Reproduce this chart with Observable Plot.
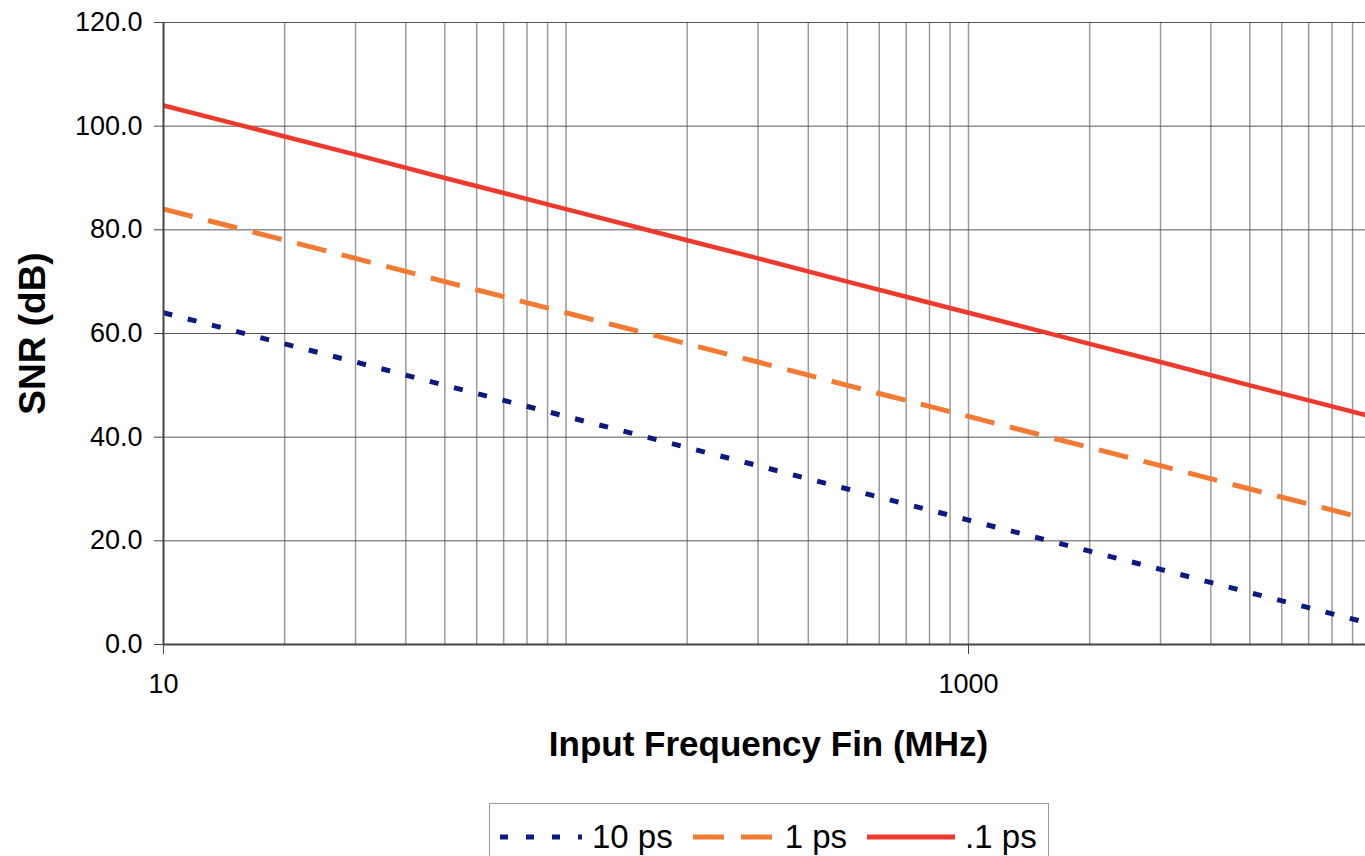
<!DOCTYPE html>
<html>
<head>
<meta charset="utf-8">
<script src="https://cdn.jsdelivr.net/npm/d3@7"></script>
<script src="https://cdn.jsdelivr.net/npm/@observablehq/plot@0.6"></script>
<style>
  html, body { margin: 0; padding: 0; background: #fff; overflow: hidden; }
  #wrap { position: relative; width: 1365px; height: 856px; overflow: hidden; font-family: "Liberation Sans", Arial, sans-serif; }
  #legend { position: absolute; left: 489px; top: 803px; width: 560px; height: 80px; border: 1.5px solid #999; box-sizing: border-box; display: flex; flex-wrap: nowrap; align-items: flex-start; padding-left: 10px; padding-top: 14px; font-size: 33px; color: #000; white-space: nowrap; }
  .item { display: flex; align-items: center; margin-right: 20px; flex-shrink: 0; white-space: nowrap; }
  .item svg { margin-right: 10px; flex-shrink: 0; }
</style>
</head>
<body>
<div id="wrap"><div id="chart"></div><div id="legend"></div></div>
<script>
// Data
const freqMHz = [10, 15, 20, 30, 50, 70, 100, 150, 200, 300, 500, 700, 1000, 1500, 2000, 3000, 5000, 7000, 10000];
const snr10ps = [64.0, 60.5, 58.0, 54.5, 50.0, 47.1, 44.0, 40.5, 38.0, 34.5, 30.0, 27.1, 24.0, 20.5, 18.0, 14.5, 10.0, 7.1, 4.0];
const snr1ps  = [84.0, 80.5, 78.0, 74.5, 70.0, 67.1, 64.0, 60.5, 58.0, 54.5, 50.0, 47.1, 44.0, 40.5, 38.0, 34.5, 30.0, 27.1, 24.0];
const snr01ps = [104.0, 100.5, 98.0, 94.5, 90.0, 87.1, 84.0, 80.5, 78.0, 74.5, 70.0, 67.1, 64.0, 60.5, 58.0, 54.5, 50.0, 47.1, 44.0];
const seriesNames = ["10 ps", "1 ps", ".1 ps"];
const seriesColors = ["#0a1a80", "#f37a32", "#ee3a2c"];
const seriesDash = ["9,16", "30,16", null];
const legendDash = ["8,18", "31,17", null];
const legendSampleWidth = [82, 82, 88];
const yTicks = [0, 20, 40, 60, 80, 100, 120];
const xTickLabels = [10, 1000];
const xGrid = [20, 30, 40, 50, 60, 70, 80, 90, 100, 200, 300, 400, 500, 600, 700, 800, 900, 1000, 2000, 3000, 4000, 5000, 6000, 7000, 8000, 9000];
const xLabel = "Input Frequency Fin (MHz)";
const yLabel = "SNR (dB)";

const seriesValues = [snr10ps, snr1ps, snr01ps];
const table = seriesNames.flatMap((name, i) => freqMHz.map((f, j) => ({series: name, f, snr: seriesValues[i][j]})));

const lineMarks = seriesNames.map((name, i) => Plot.line(table.filter(d => d.series === name), {
  x: "f", y: "snr", stroke: seriesColors[i], strokeWidth: i === 2 ? 4.5 : 5,
  strokeDasharray: seriesDash[i] || undefined, strokeLinecap: "butt", clip: true
}));

const chart = Plot.plot({
  width: 1365,
  height: 800,
  marginTop: 22,
  marginLeft: 163,
  marginRight: 0,
  marginBottom: 156,
  style: { fontFamily: "'Liberation Sans', Arial, sans-serif", fontSize: "27px", color: "#000", background: "#fff", overflow: "hidden" },
  x: { type: "log", domain: [10, 9690] },
  y: { domain: [0, 120] },
  marks: [
    Plot.ruleX(xGrid, { stroke: "#9a9a9a", strokeWidth: 1.5 }),
    Plot.ruleY(yTicks.filter(v => v > 0), { stroke: "#555", strokeWidth: 1 }),
    ...lineMarks,
    Plot.ruleY([0], { stroke: "#444", strokeWidth: 2 }),
    Plot.ruleX([10], { stroke: "#444", strokeWidth: 2 }),
    Plot.axisY({ ticks: yTicks, tickFormat: d3.format(".1f"), tickSize: 9, tickPadding: 12, stroke: "#444", label: null, fontSize: 27 }),
    Plot.axisX({ ticks: xTickLabels, tickFormat: d => String(d), tickSize: 10, tickPadding: 19, stroke: "#444", label: null, fontSize: 27 }),
    Plot.text([xLabel], { frameAnchor: "bottom", textAnchor: "middle", dx: 4, dy: 111, fontSize: 35, fontWeight: "bold", fill: "#000" }),
    Plot.text([yLabel], { frameAnchor: "left", textAnchor: "middle", dx: -130, rotate: -90, fontSize: 37, fontWeight: "bold", fill: "#000" })
  ]
});
document.getElementById("chart").appendChild(chart);

// Legend
const legend = document.getElementById("legend");
seriesNames.forEach((name, i) => {
  const item = document.createElement("div");
  item.className = "item";
  const w = legendSampleWidth[i];
  item.innerHTML = `<svg width="${w}" height="12"><line x1="0" y1="6" x2="${w}" y2="6" stroke="${seriesColors[i]}" stroke-width="5" ${legendDash[i] ? `stroke-dasharray="${legendDash[i]}"` : ""}/></svg><span>${name}</span>`;
  legend.appendChild(item);
});
</script>
</body>
</html>
